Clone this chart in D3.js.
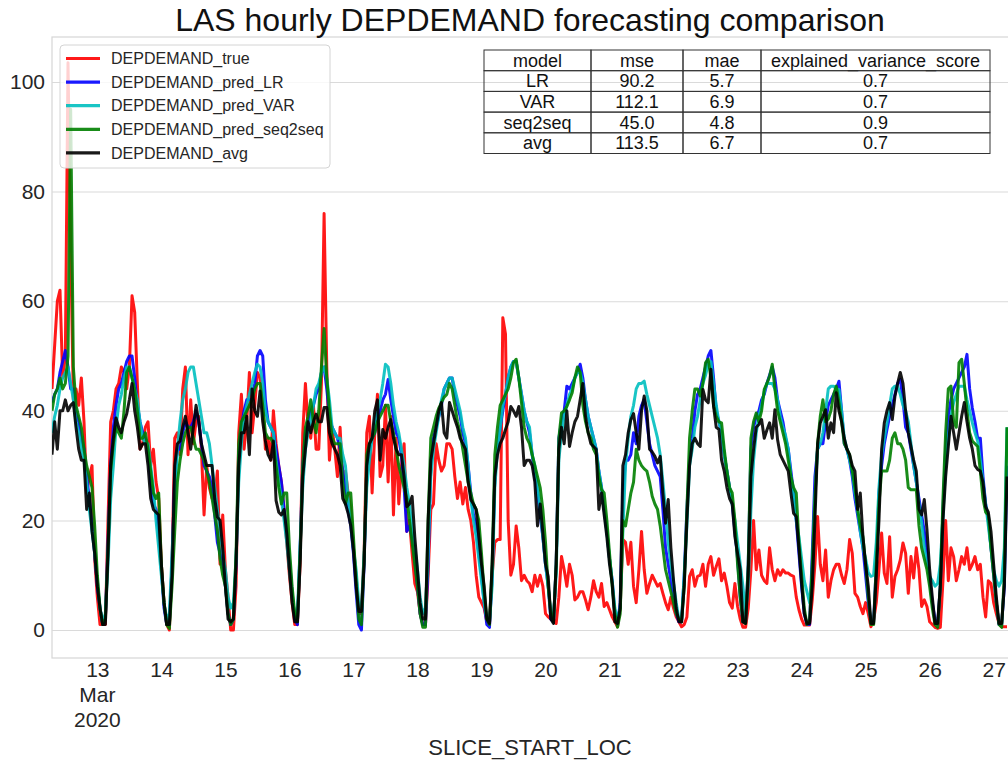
<!DOCTYPE html>
<html><head><meta charset="utf-8">
<script src="https://cdn.jsdelivr.net/npm/d3@7"></script>
<style>
body{margin:0;background:#fff}
svg{display:block}
text{font-family:"Liberation Sans",Arial,sans-serif}
</style>
</head><body>
<svg id="chart" width="1008" height="765"></svg>
<script>
// hourly series, first point 2020-03-12 07:00, one value per hour
const startTime = Date.UTC(2020, 2, 12, 7);
const depTrue = [
44,52,60,62,46,50,103.5,70,42,44,41,46,38,25,28,30,13,
6,1,1,1,20,38,40,44,45,48,47,44,48,61,58,45,33,34,37,38,30,33,27,24,
12,5,1,0,12,35,36,32,44,48,32,42,34,38,39,33,21,30,26,24,24,29,12,21,
11,6,0,0,8,36,43,33,38,47,36,41,47,46,42,33,35,31,40,34,30,27,22,16,
10,5,1,1,12,36,45,37,35,41,33,33,45,76,48,31,37,33,28,37,27,29,25,22,
15,10,3,3,14,36,39,25,36,43,28,30,41,27,39,21,35,23,30,34,18,20,14,8.5,
7,3,1,1,10,22,23,34,31,29,30,34,34,33,28,24,27,23,26,22,20,16,10,6,
5,4,1.5,1,10,16,16.5,16.5,57,54,20,10,12,19,15,9,10,9,8.5,7,10,8,10,8,
3,2.4,2,1.8,1.2,6,13.4,11,8,12,10,5.5,6,7,7,5.5,3.7,6,9,7,6,8.5,4.3,5,
3.7,2.4,1.5,0.6,4,16.5,16,12,16,8,5,11,18,11,6.7,8.5,10,9,8,8.5,6.7,5,3.7,6,
4,2.4,1.5,0.6,1,2.4,9.8,11,8,9.8,10,12,8,12,13.4,10,11.6,13,9,10.4,8,5,4,8.5,
4.3,2,0.5,0.5,4,11,20,11,14.6,10,9,8.5,15,11,9,11,10,11,10.4,10.4,10,9.8,6,3.7,
2,0.9,0.9,0.9,5.5,12,20.7,12,9,14.6,6,9,11,12,12,10,8.5,11,16.5,14,6.7,6,4.3,3,
5,3,0.6,1.8,5,11,17.7,10.4,8.5,17,6,9.8,11,12.8,15.9,14,6.7,13.4,9.5,15,11,4.3,5.5,4.3,
1.5,1,0.5,0.3,0.5,9,20,9,15,13.4,9,11,13.4,12,15,11,12,13.4,11,12,6,2.4,9,8.5,
5,3,1.2,0.6,0.6,0.6
];
const predLR = [
41.5,43,44,47,49,51,48,44,44,40,38,35,33,28,24,19,14,
8,4,1,2,16,30,37,41,44,45,47,49,50,50,46,41,38,36,35,33,27,23,22,18,
11,4,1,1,12,28,33,33,36,38,37,37,38,40,38,34,30,29,28,26,21,16,14,12,
8,3,1,2,12,32,37,40,42,42,42,45,50,51,50,42,38,37,36,33,30,27,22,18,
13,7,2,1,15,30,36,38,40,41,43,44,47,48,44,39,37,36,35,33,29,26,22,19,
14,7,1,0,12,30,33,35,36,39,40,42,43,45.7,42,39,36,35,32,26,18,19,17,13,
8,3,1,1,12,30,35,37,39,41,44,45,46,46,43,41,39,36,34,30,25,21,19,14,
10,5,1,0.5,10,28,33,37,40,43,46,48,49,49,46,43,40,38,36,32,28,25,21,17,
12,8,2,1.5,12,35,38,40,44.5,44,45,46,47,48.5,46,42,39,37,35,33,29,26,22,18,
13,9,3,1,5,25,31,31,32,36,34,39,41,42,38,34,32,30,29,28,22,15,12,9,
6,3,1.5,1.5,10,22,31,35,40,43,44,46,48,50,51,46,40,38,36,32,29,26,23,18,
13,6,1.5,1.5,12,33,37,39,40,42,43,45,46.5,48,46,42,40,38,35,33,29,25,20,14,
8,3,1,1,14,28,33,34,34,38,41,42,43,44,45.4,40,34,33,31,28,24,21,18,15,
10,5,1.5,1.5,12,25,30,34,36.6,39,41,43,45,45.7,42,37,36,33,30,27,24,21,18,14,
9,5,2,1,8,22,33,39,42,44,45,46,47,48,50.3,44,40.5,38,35,35,28,23,20,15,
10,5,1,1,8,30
];
const predVAR = [
36,39,41,44,46,47,48,45,42,38,36,33,31,27,22,18,14,
9,4,1.5,3,12,24,30,37,41,43,46,48,48,46,44,42,38,35,34,34,30,26,20,15,
10,5,2,3,14,24,33,38,42,44,47,48,48,45,42,39,36,36,34,30,26,22,18,14,
11,6,4,5,13,27,34,39,41,43,45,47,48.5,48,45,40,38,37,36,31,27,24,20,16,
11,6,3,3,15,26,33,36,38,41,44,45,47,48,46,42,37,36,35,35,32,30,24,20,
15,11,5,4,14,26,31,35,38,40,42,45,48.5,48,45,41,38,36,33,30,26,23,19,15,
11,6,3,4,14,28,33,36,39,42,44,45,46,46,44,42,40,37,35,30,24,20,17,13,
9,5,2,1.5,8,26,33,37,41,43,46,48,49,49,46,43,40,38,37,32,30,26,22,17,
12,8,3,2,10,31,36,39,41,43,44,46,47,47,45,42,39,37,35,33,29,26,22,18,
13,9,4,2,4,18,30,35,39,41,44,45,45,45.4,43,41,39,37,35,32,27,22,16,12,
8.5,5,2,2,10,19,30,33,37,39,42,45,46.5,48.5,49,45,41,38,36,32,29,26,23,20,
16,12,8,3,8,22,31,36,39,41,43.5,45,45,45,44,42,39,37,35.5,33,28,24.4,20,17,
13,9,7,5,10,24,33,34,36,40,44,44.5,44.5,44,43.9,40,35,33,31,29,25,22,18,15,
13,10.5,9.8,10,16,26,32,35,37.8,41,44,44.5,44.5,43,41,40,38,34,30,27,23,19.5,15,12,
9.8,9,8,8.5,12,21,30,35,39,41.5,43,44.5,44.5,44.5,42,40,37.8,36,34.5,31,27,23,19,15,
11,9,8,9,15,37
];
const predSeq2seq = [
40,43,44,46,44,45,50,95,48,41,39,37,33,30,28,26,19,
10,4,1,2,15,29,34,37,36,35,40,47,48,46,44,40,35,35,36,33,29,25,24,25,
12,5,1,0.3,8,18,27,31,34,36,37,37,35,33,33,32,31,29,27,24,21,18,13,10,
8,3,1,2,14,34,38,39,40,41,42,44,45,45,41,36,35,35,34,30,26,23,25,25,
15,8,3,1.5,14,30,37,39,42,38,36,40,48,55,46,40,35,34,34,34,27,23,25,25,
17,9,2,1,13,32,34,35,36,38,39,40,41,41,38,36,33,30,28,26,24,20,16,12,
8,3,0.5,0.5,20,35,37,39,40.5,41.5,42.5,43,45,44,41,38,36,33,30,27,25,23,22,20,
14,7,2,1,12,32,37,41,42,43,44,46,48.8,49.4,46,41.5,37,35,34,32,30,28,26,22,
16,8,3,1.5,12,35,39.6,40,40.8,42,43.3,46,48,47,41,38,36,35,33,32,28,25.6,25,20,
14,8,3,0.5,3,20,19,22,25,27,33,31,30,29.4,29,27,24.4,23,22,19,15,11,9,7,
5,3,2,1.5,8,22,35,40,44,44,42.7,45,48.8,49.4,46,41,39,38,37.8,33,29,26,25,20,
12,6,1.5,1.2,12,35,38,39.6,38,40,43.9,45,46.3,48.5,44,40,38,36,34,31,28,26,25,16,
10,4,1,1.5,12,24,34,39,42,38,38.5,40,43,44.5,41.5,38,34,33,32,29,26,22,19,17,
12,6,1,1,12,23,29,29,29,31,35,36,34,34,33,31,26,25.6,25.6,25.6,19,15,13,11,
8,4,1,0.5,8,24,36,44,44.5,38,37,48.8,49.4,45,40,36,34.5,34,33.5,29,24,21.5,21,15,
10,5,1,0.5,10,37
];
const depAvg = [
32,38,33,40,40,42,40,41,41.5,37,33,31,31,22,25,18,14,
8,4,1,1,14,30,35,38.7,37,36,38,39.4,42,45,40,37,33,34,34,30,24,22,21.5,21,
12,5,1,1,10,30,34,34.5,37,39,36,33,37,41,38,34,32,30,30,30,24,20.6,20,15,
8,2,1.5,2,12,30,36,36,39,32,44,40,39,43.6,38,34.5,32,31,34.5,23.6,21.5,21,22,17.6,
11,5,1.5,1.5,12,28,33,38,36,38,39.4,38,38,40.6,40.6,36,34,33,32,30,24,23,21.3,19,
14.6,8,3.4,3.4,12,30,34,35,40,42,31,36.6,35,37,38.4,35,33,32,32,28,22.5,23,24.4,17,
11,5,2,2,20,31,34,37,40,41.5,36,35,41.5,40,38.4,37,35,34,33,27,23.8,23,22,17,
12,8,2,1.2,12,28,32,34,35,36.6,38,40.8,40,39,40.8,37,30,31,31,30,27,19,23,17.7,
12,9.8,2,1.2,12,33,37,34,40,33.5,36,38,39,42,45,39,36,34,33.5,33,22,25,21,17,
12,8.5,1.5,1.2,4,30,32,36,38.4,39.5,36,33,40,42.7,40,33,32.5,31.7,30.5,31.7,25,19.5,23.8,15,
9,4,1.5,1.5,8,20,30,34,35,34,33.5,43.9,42,41.5,47.6,40.8,37,36.6,31,29,26,24,23,17,
14,11,1.5,1.2,10,28,33,37,37.5,38.4,35,36.5,37.8,35,40.2,34.7,32,31,30,29,25,21.3,20.7,15,
8.5,3,1.2,1.2,8,20,34,37.8,39,40.2,35,37.8,36,43.3,40,38,35,33,32,30,29,22,25,17,
12,8,1.2,1.2,10,20,33,37.8,40,41.5,38.4,42.7,45,47,45,40,36,33.5,31,29,22,21,23.8,18.3,
11,6,1.2,1.2,8,20,28,33.5,39,36,33,36,39,41.5,38,35,33,30,29.3,29,27,22.5,21.5,18,
12,6,1.2,1.2,8,28
];

const seriesNames = ["DEPDEMAND_true","DEPDEMAND_pred_LR","DEPDEMAND_pred_VAR","DEPDEMAND_pred_seq2seq","DEPDEMAND_avg"];
const seriesValues = [depTrue, predLR, predVAR, predSeq2seq, depAvg];
const seriesColors = ["#ff0000","#0000ff","#00bfbf","#008000","#000000"];

const yTickValues = [0,20,40,60,80,100];
const dayTickValues = [13,14,15,16,17,18,19,20,21,22,23,24,25,26,27];
const monthLabel = "Mar";
const yearLabel = "2020";

const tableHeader = ["model","mse","mae","explained_variance_score"];
const tableModel = ["LR","VAR","seq2seq","avg"];
const tableMse = ["90.2","112.1","45.0","113.5"];
const tableMae = ["5.7","6.9","4.8","6.7"];
const tableEvs = ["0.7","0.7","0.9","0.7"];

const titleText = "LAS hourly DEPDEMAND forecasting comparison";
const xLabelText = "SLICE_START_LOC";

// ---- layout
const W = 1008, H = 765;
const plot = {left: 52, right: 1007, top: 37, bottom: 658};
const svg = d3.select("#chart");
const txt = "#262626";

const HOUR = 3600 * 1000;
const nPts = depTrue.length;
const x = d3.scaleUtc()
  .domain([new Date(startTime), new Date(startTime + (nPts - 1) * HOUR)])
  .range([plot.left, plot.right]);
const y = d3.scaleLinear().domain([-5.1, 108.2]).range([plot.bottom, plot.top]);

// frame (light spines)
svg.append("rect").attr("x", plot.left).attr("y", plot.top)
  .attr("width", W - plot.left + 5).attr("height", plot.bottom - plot.top)
  .attr("fill", "none").attr("stroke", "#d6d6d6").attr("stroke-width", 1.2);

// y axis with grid
const yAxis = d3.axisLeft(y).tickValues(yTickValues).tickFormat(d3.format("d"))
  .tickSize(-(W - plot.left)).tickPadding(7);
const gy = svg.append("g").attr("transform", `translate(${plot.left},0)`).call(yAxis);
gy.select(".domain").remove();
gy.selectAll(".tick line").attr("stroke", "#dadada").attr("stroke-width", 1.1);
gy.selectAll(".tick text").attr("font-size", 21).attr("fill", txt)
  .attr("font-family", "Liberation Sans, Arial, sans-serif");

// x axis
const dayDates = dayTickValues.map(d => new Date(Date.UTC(2020, 2, d)));
const xAxis = d3.axisBottom(x).tickValues(dayDates).tickFormat(d => d.getUTCDate())
  .tickSize(0).tickPadding(4);
const gx = svg.append("g").attr("transform", `translate(0,${plot.bottom})`).call(xAxis);
gx.select(".domain").remove();
gx.selectAll(".tick text").attr("font-size", 21).attr("fill", txt)
  .attr("font-family", "Liberation Sans, Arial, sans-serif");
svg.append("text").attr("x", x(dayDates[0])).attr("y", 702).attr("text-anchor", "middle")
  .attr("font-size", 21).attr("fill", txt).text(monthLabel);
svg.append("text").attr("x", x(dayDates[0])).attr("y", 727).attr("text-anchor", "middle")
  .attr("font-size", 21).attr("fill", txt).text(yearLabel);

// axis label + title
svg.append("text").attr("x", 530).attr("y", 755).attr("text-anchor", "middle")
  .attr("font-size", 22).attr("fill", txt).text(xLabelText);
svg.append("text").attr("x", 530).attr("y", 31).attr("text-anchor", "middle")
  .attr("font-size", 32).attr("fill", "#111").text(titleText);

// lines
const clip = svg.append("clipPath").attr("id", "clp").append("rect")
  .attr("x", plot.left).attr("y", plot.top).attr("width", W - plot.left).attr("height", plot.bottom - plot.top);
const line = d3.line().x((d, i) => x(new Date(startTime + i * HOUR))).y(d => y(d));
const gl = svg.append("g").attr("clip-path", "url(#clp)");
seriesValues.forEach((vals, k) => {
  gl.append("path").datum(vals).attr("d", line)
    .attr("fill", "none").attr("stroke", seriesColors[k]).attr("stroke-width", 3)
    .attr("stroke-opacity", 0.9).attr("stroke-linejoin", "round").attr("stroke-linecap", "butt");
});

// legend
const lg = svg.append("g");
lg.append("rect").attr("x", 60).attr("y", 45).attr("width", 270).attr("height", 123).attr("rx", 4)
  .attr("fill", "#fff").attr("fill-opacity", 0.8).attr("stroke", "#d4d4d4").attr("stroke-width", 1);
seriesNames.forEach((n, k) => {
  const yy = 58.5 + k * 23.6;
  lg.append("line").attr("x1", 66).attr("x2", 100).attr("y1", yy).attr("y2", yy)
    .attr("stroke", seriesColors[k]).attr("stroke-width", 3.2).attr("stroke-opacity", 0.9);
  lg.append("text").attr("x", 111).attr("y", yy + 5.7).attr("font-size", 16).attr("fill", txt).text(n);
});

// table
const colX = [484, 591, 683, 761, 990];
const rowTop = 50, rowH = 20.7;
const rows = [tableHeader].concat(tableModel.map((m, i) => [m, tableMse[i], tableMae[i], tableEvs[i]]));
const tg = svg.append("g");
rows.forEach((r, ri) => {
  r.forEach((c, ci) => {
    tg.append("rect").attr("x", colX[ci]).attr("y", rowTop + ri * rowH)
      .attr("width", colX[ci + 1] - colX[ci]).attr("height", rowH)
      .attr("fill", "none").attr("stroke", "#333").attr("stroke-width", 1);
    tg.append("text").attr("x", (colX[ci] + colX[ci + 1]) / 2).attr("y", rowTop + ri * rowH + rowH / 2 + 6.3)
      .attr("text-anchor", "middle").attr("font-size", 18).attr("fill", "#111").text(c);
  });
});
</script>
</body></html>
